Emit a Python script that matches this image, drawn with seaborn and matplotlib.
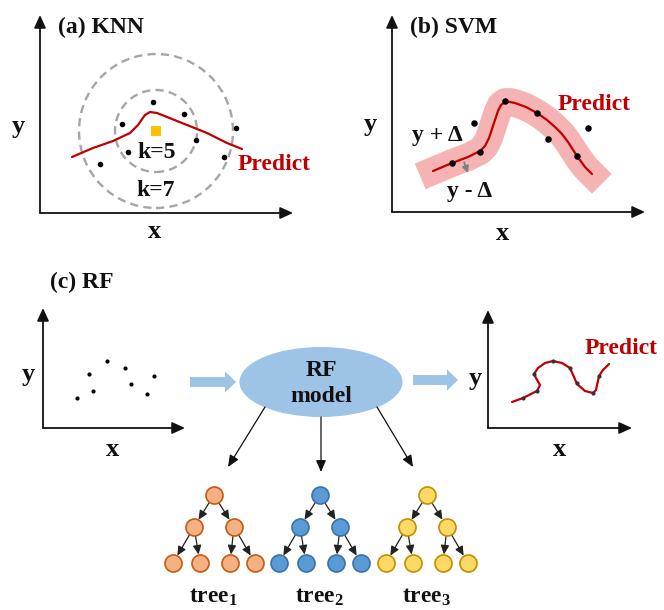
import matplotlib
matplotlib.use("Agg")
import matplotlib.pyplot as plt
import seaborn as sns
from matplotlib.patches import Circle, Ellipse, FancyArrow

sns.set_theme(style="white")
plt.rcParams["font.family"] = ["Liberation Serif", "DejaVu Serif"]
plt.rcParams["font.weight"] = "bold"
plt.rcParams["mathtext.fontset"] = "custom"
plt.rcParams["mathtext.rm"] = "Liberation Serif:bold"
plt.rcParams["mathtext.bf"] = "Liberation Serif:bold"
plt.rcParams["mathtext.it"] = "Liberation Serif:bold"

RED = "#c00000"
INK = "#111111"
FS = 17

# ---------------- data ----------------
# (a) KNN: training samples, query point, neighbourhood radii, prediction curve
knn_x = [113, 82, 144, 196, 156, 88, 60, 184]
knn_y = [111, 89, 99, 85, 73, 61, 49, 56]
knn_query_x = [116]
knn_query_y = [82]
knn_radii = [41, 77]
knn_fit_x = [32, 53, 73, 90, 98, 105, 110, 117, 127, 147, 167, 187, 202]
knn_fit_y = [56, 65, 72, 80, 88, 98, 101, 100, 96, 88, 80, 70, 64]

# (b) SVM: samples and regression curve with epsilon tube
svm_x = [60, 82, 88, 113, 145, 156, 185, 196]
svm_y = [49, 89, 60, 111, 99, 73, 56, 84]
svm_fit_x = [41, 60, 76, 88, 93, 97, 100, 103, 106, 109, 113, 118, 123, 134,
             145, 155, 163, 170, 176, 185, 193, 200]
svm_fit_y = [41, 49, 55, 61, 66, 74, 83, 92, 101, 107, 110, 110, 109, 105,
             99, 92, 85, 78, 70, 56, 45, 38]

# (c) RF: input samples and fitted curve
rf_in_x = [34, 46, 50, 64, 82, 88, 104, 111]
rf_in_y = [30, 54, 37, 67, 60, 44, 34, 52]
rf_out_x = [35, 49, 46, 65, 82, 89, 105, 111]
rf_out_y = [30, 37, 54, 67, 60, 45, 35, 52]
rf_fit_x = [24, 35, 49, 52, 48, 46, 50, 57, 65, 74, 82, 86, 89, 97, 105, 108, 111, 115, 121]
rf_fit_y = [26, 30, 37, 43, 50, 54, 60, 65, 67, 65, 60, 51, 44, 37, 35, 38, 52, 58, 64]

# decision trees
tree_names = ["1", "2", "3"]
tree_fill = ["#f4b183", "#5b9bd5", "#ffd966"]
tree_edge = ["#c55a11", "#3a72a8", "#bf9000"]

W, H = 664, 610
fig = plt.figure(figsize=(W / 100, H / 100), dpi=100)
fig.patch.set_facecolor("white")

# full-figure layer for labels and diagram pieces (pixel units)
ov = fig.add_axes([0, 0, 1, 1])
ov.set_xlim(0, W)
ov.set_ylim(H, 0)
ov.axis("off")
ov.patch.set_alpha(0)


def panel(left, top, right, bottom):
    ax = fig.add_axes([left / W, 1 - bottom / H, (right - left) / W, (bottom - top) / H])
    ax.set_xlim(0, right - left)
    ax.set_ylim(0, bottom - top)
    ax.axis("off")
    ax.patch.set_alpha(0)
    style = "-|>,head_length=0.7,head_width=0.32"
    for tip in [(0, 1), (1, 0)]:
        ax.annotate("", xy=tip, xytext=(0, 0), xycoords="axes fraction",
                    arrowprops=dict(arrowstyle=style, color=INK, lw=1.3,
                                    mutation_scale=11, shrinkA=0, shrinkB=0),
                    annotation_clip=False)
    return ax


def label(x, y, s, color=INK, ha="center", size=FS):
    ov.text(x, y, s, color=color, ha=ha, va="center", fontsize=size,
            fontweight="bold")


# ---------------- (a) KNN ----------------
axa = panel(40, 15, 293, 213)
for r in knn_radii:
    axa.add_patch(Circle((knn_query_x[0], knn_query_y[0]), r, fill=False,
                         ec="#a6a6a6", lw=1.7, ls=(0, (3.5, 2.2)), clip_on=False))
sns.lineplot(x=knn_fit_x, y=knn_fit_y, sort=False, estimator=None, color=RED,
             lw=1.6, ax=axa)
sns.scatterplot(x=knn_x, y=knn_y, color="black", s=16, linewidth=0, zorder=4,
                ax=axa)
sns.scatterplot(x=knn_query_x, y=knn_query_y, color="#ffc000", marker="s",
                s=55, linewidth=0, zorder=4, ax=axa)
label(58, 27, "(a) KNN", ha="left")
label(18, 126, "y", size=19)
label(155, 232, "x", size=19)
label(157, 152, "k=5")
label(156, 190, "k=7")
label(238, 165, "Predict", color=RED, ha="left")

# ---------------- (b) SVM ----------------
axb = panel(392, 15, 645, 212)
sns.lineplot(x=svm_fit_x, y=svm_fit_y, sort=False, estimator=None,
             color="#f5b3b3", lw=20, solid_capstyle="projecting",
             solid_joinstyle="round", ax=axb)
sns.lineplot(x=svm_fit_x, y=svm_fit_y, sort=False, estimator=None, color=RED,
             lw=1.6, ax=axb)
sns.scatterplot(x=svm_x, y=svm_y, color="black", s=22, linewidth=0, zorder=4,
                ax=axb)
axb.annotate("", xy=(76, 39), xytext=(72, 50),
             arrowprops=dict(arrowstyle="-|>,head_length=0.5,head_width=0.25",
                             color="#808080", lw=1.2, mutation_scale=8,
                             shrinkA=0, shrinkB=0))
label(410, 27, "(b) SVM", ha="left")
label(370, 124, "y", size=19)
label(503, 233, "x", size=19)
label(437, 135, "y + \u0394")
label(470, 191, "y - \u0394")
label(558, 104, "Predict", color=RED, ha="left")

# ---------------- (c) RF ----------------
label(50, 282, "(c) RF", ha="left")
axc1 = panel(43, 308, 185, 428)
sns.scatterplot(x=rf_in_x, y=rf_in_y, color="black", s=9, linewidth=0, ax=axc1)
label(28, 375, "y", size=19)
label(113, 450, "x", size=19)

axc2 = panel(488, 310, 632, 428)
sns.lineplot(x=rf_fit_x, y=rf_fit_y, sort=False, estimator=None, color=RED,
             lw=1.6, ax=axc2)
sns.scatterplot(x=rf_out_x, y=rf_out_y, color="#333333", s=9, linewidth=0,
                zorder=4, ax=axc2)
label(475, 379, "y", size=19)
label(560, 450, "x", size=19)
label(585, 348, "Predict", color=RED, ha="left")

BLUE = "#9dc3e6"
ov.add_patch(FancyArrow(190, 382, 46, 0, width=10, head_width=21, head_length=11,
                        length_includes_head=True, color=BLUE, lw=0))
ov.add_patch(FancyArrow(413, 380, 45, 0, width=10, head_width=21, head_length=11,
                        length_includes_head=True, color=BLUE, lw=0))
ov.add_patch(Ellipse((321, 382), 163, 70, color=BLUE, lw=0))
label(321, 370, "RF")
label(321, 397, "model")

thin = "-|>,head_length=0.7,head_width=0.3"
for (x0, y0), (x1, y1) in [((265, 407), (228, 467)), ((321, 417), (321, 472)),
                           ((377, 407), (413, 467))]:
    ov.annotate("", xy=(x1, y1), xytext=(x0, y0),
                arrowprops=dict(arrowstyle=thin, color=INK, lw=0.9,
                                mutation_scale=10, shrinkA=0, shrinkB=0))

# trees: root, two children, four grandchildren
roots_x = [214, 320, 427]
level_y = [495, 527, 563]
level_dx = [[0], [-20, 20], [-41, -14, 16, 41]]
for t, rx in enumerate(roots_x):
    nodes_x, nodes_y = [], []
    for lvl, offs in enumerate(level_dx):
        for i, dx in enumerate(offs):
            nodes_x.append(rx + dx)
            nodes_y.append(level_y[lvl])
            if lvl > 0:
                px = rx + level_dx[lvl - 1][i // 2]
                ov.annotate("", xy=(rx + dx, level_y[lvl]),
                            xytext=(px, level_y[lvl - 1]),
                            arrowprops=dict(arrowstyle="-|>,head_length=0.6,head_width=0.28",
                                            color="#222222", lw=0.9,
                                            mutation_scale=9, shrinkA=6.2,
                                            shrinkB=6.2))
    sns.scatterplot(x=nodes_x, y=nodes_y, s=150, color=tree_fill[t],
                    edgecolor=tree_edge[t], linewidth=1.2, zorder=3, ax=ov)
    label(rx, 597, r"$\mathbf{tree}_{\mathbf{" + tree_names[t] + "}}$")

ov.set_xlim(0, W)
ov.set_ylim(H, 0)
fig.savefig("out.png", dpi=100, facecolor="white")
